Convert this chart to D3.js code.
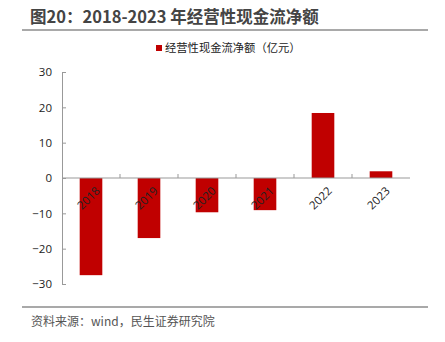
<!DOCTYPE html>
<html><head><meta charset="utf-8">
<script src="https://cdn.jsdelivr.net/npm/d3@7/dist/d3.min.js"></script>
<style>body{margin:0;background:#fff;}svg{display:block;font-family:"Noto Sans CJK SC","Noto Sans",sans-serif;}</style>
</head><body>
<svg id="c" width="445" height="342"></svg>
<script>
const categories = ["2018","2019","2020","2021","2022","2023"];
const values = [-27.5, -17.0, -9.7, -9.1, 18.4, 1.9];
const yTicks = [30, 20, 10, 0, -10, -20, -30];
const title = "图20：2018-2023 年经营性现金流净额";
const seriesName = "经营性现金流净额（亿元）";
const source = "资料来源：wind，民生证券研究院";

const svg = d3.select("#c");
const x = d3.scaleBand().domain(categories).range([62, 410]).paddingInner(0.61).paddingOuter(0.305);
const y = d3.scaleLinear().domain([-30, 30]).range([284, 72]);

// title
svg.append("text").attr("x", 30).attr("y", 23).attr("font-size", 16.5).attr("font-weight", "bold")
  .attr("fill", "#444").attr("font-family", "'Noto Sans CJK SC',sans-serif").text(title);
svg.append("line").attr("x1", 22).attr("x2", 428).attr("y1", 30).attr("y2", 30)
  .attr("stroke", "#555").attr("stroke-width", 1.2);

// legend
svg.append("rect").attr("x", 156).attr("y", 45).attr("width", 6).attr("height", 6).attr("fill", "#C00000");
svg.append("text").attr("x", 165).attr("y", 52).attr("font-size", 11.3).attr("fill", "#222").text(seriesName);

// bars
svg.append("g").selectAll("rect").data(values).join("rect")
  .attr("x", (d, i) => x(categories[i]))
  .attr("width", x.bandwidth())
  .attr("y", d => y(Math.max(0, d)))
  .attr("height", d => Math.abs(y(d) - y(0)))
  .attr("fill", "#C00000");

// y axis
const yAxis = d3.axisRight(y).tickValues(yTicks).tickSize(4).tickFormat(d3.format("d"));
const gy = svg.append("g").attr("transform", "translate(62,0)").call(yAxis);
gy.select(".domain").attr("stroke", "#999");
gy.selectAll(".tick line").attr("stroke", "#999");
gy.selectAll(".tick text").attr("x", -10).attr("text-anchor", "end").attr("font-size", 11.5)
  .attr("fill", "#222").attr("font-family", "'Open Sans','Noto Sans',sans-serif");

// zero line with ticks between categories
const step = x.step();
svg.append("line").attr("x1", 62).attr("x2", 410).attr("y1", y(0)).attr("y2", y(0)).attr("stroke", "#999");
const bounds = d3.range(1, categories.length).map(i => 62 + i * step);
svg.append("g").selectAll("line").data(bounds).join("line")
  .attr("x1", d => d).attr("x2", d => d).attr("y1", y(0)).attr("y2", y(0) - 4).attr("stroke", "#999");

// x labels
svg.append("g").selectAll("text").data(categories).join("text")
  .attr("transform", d => `translate(${x(d) + x.bandwidth() / 2 + 4},${y(0) + 8}) rotate(-45)`)
  .attr("text-anchor", "end").attr("dy", "0.7em").attr("font-size", 11.5).attr("fill", "#222")
  .attr("font-family", "'Open Sans','Noto Sans',sans-serif").text(d => d);

// bottom
svg.append("line").attr("x1", 22).attr("x2", 428).attr("y1", 307).attr("y2", 307)
  .attr("stroke", "#555").attr("stroke-width", 1.2);
svg.append("text").attr("x", 31).attr("y", 326).attr("font-size", 12).attr("fill", "#555").text(source);
</script>
</body></html>
